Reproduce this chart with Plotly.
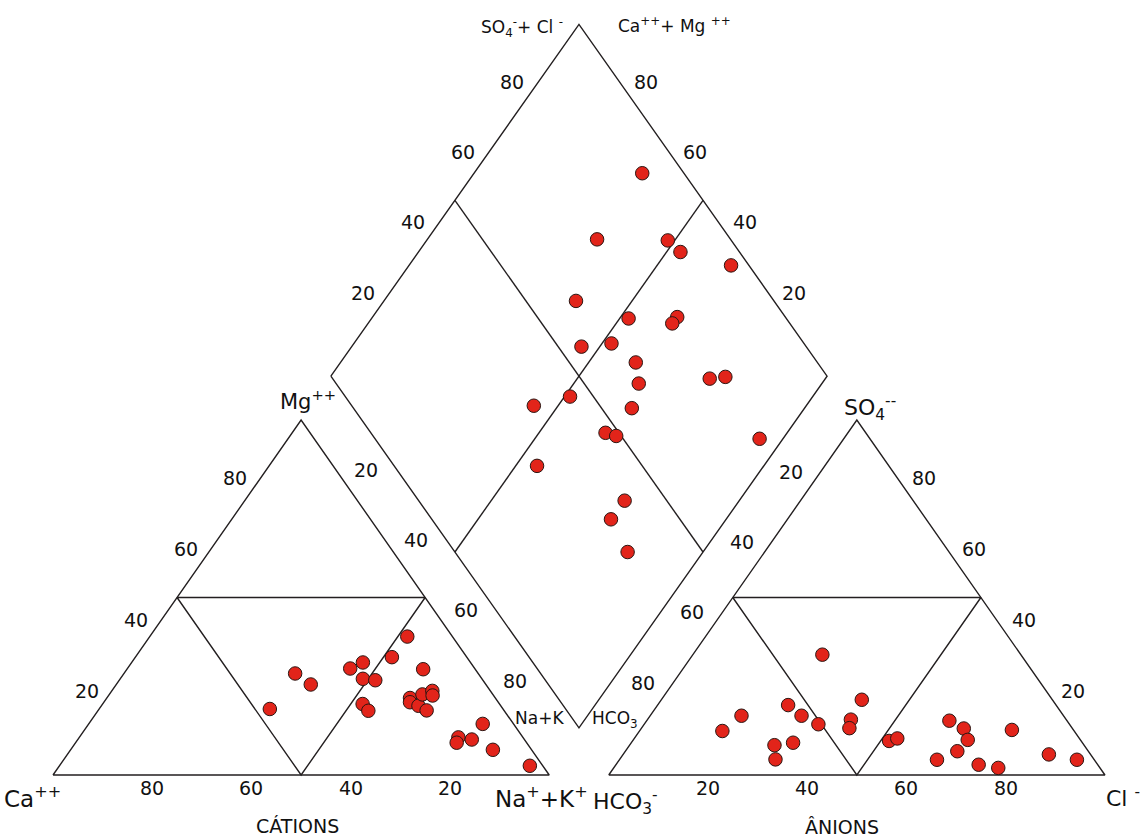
import plotly.graph_objects as go

# ---------------- data (percent of meq/L) ----------------
# cation triangle
cat_ca  = [47.0, 36.9, 35.3, 25.1, 21.7, 24.0, 21.7, 27.6, 27.4, 15.1, 9.1, 10.5, 17.2,
           17.8, 16.6, 15.6, 14.2, 11.7, 12.3, 13.0, 14.1, 10.6, 6.2, 7.8, 2.6]
cat_mg  = [18.6, 28.6, 25.5, 30.0, 31.7, 27.1, 26.7, 20.0, 18.1, 33.2, 39.0, 29.8, 21.7,
           20.5, 19.5, 18.2, 22.7, 23.7, 22.4, 10.6, 9.1, 10.0, 14.4, 7.1, 2.6]
cat_nak = [34.4, 34.5, 39.2, 44.9, 46.6, 48.9, 51.6, 52.4, 54.5, 51.7, 51.9, 59.7, 61.1,
           61.7, 63.9, 66.2, 63.1, 64.6, 65.3, 76.4, 76.8, 79.4, 79.4, 85.1, 94.8]

# anion triangle
an_hco3 = [40.0, 38.4, 54.0, 64.9, 52.8, 50.6, 43.4, 44.9, 70.9, 62.4, 58.3, 64.2,
           38.7, 36.7, 23.7, 21.9, 22.7, 26.4, 31.7, 24.0, 20.5, 12.4, 8.4, 3.5]
an_so4  = [33.9, 21.2, 19.7, 16.7, 16.7, 14.3, 15.6, 13.2, 12.4, 8.4, 9.1, 4.4,
           9.6, 10.3, 15.3, 13.1, 9.9, 6.7, 4.3, 2.9, 2.0, 12.7, 5.8, 4.3]
an_cl   = [26.1, 40.4, 26.3, 18.4, 30.5, 35.1, 41.0, 41.9, 16.7, 29.2, 32.6, 31.4,
           51.7, 53.0, 61.0, 65.0, 67.4, 66.9, 64.0, 73.1, 77.5, 74.9, 85.8, 92.2]

# diamond (Na+K %, SO4+Cl %)
dia_nak   = [33.9, 34.2, 48.6, 52.8, 64.9, 38.7, 51.8, 61.4, 61.3, 46.3, 51.9, 59.5, 76.7,
             79.6, 63.1, 45.1, 51.1, 65.2, 63.4, 66.0, 95.3, 54.3, 76.9, 76.8, 84.8]
dia_so4cl = [91.6, 73.1, 87.2, 88.1, 96.4, 60.1, 68.2, 78.2, 76.3, 54.7, 61.2, 63.4, 76.0,
             79.4, 61.0, 36.7, 45.3, 56.1, 47.3, 49.0, 77.5, 28.8, 41.5, 36.1, 34.8]

tick_vals = [20, 40, 60, 80]
tick_text = ["20", "40", "60", "80"]

# ---------------- geometry ----------------
H = 0.866          # triangle height per percent
GAP = 12.0         # gap between triangles
X_AN = 100 + GAP   # origin of anion triangle
DB_Y = 11.5        # diamond bottom height
DH = 0.858         # diamond height per percent
DX = (100 + GAP) / 2 + 50  # diamond bottom x


def cat_xy(ca, mg, nak):
    return nak + mg / 2.0, mg * H


def an_xy(hco3, so4, cl):
    return X_AN + cl + so4 / 2.0, so4 * H


def dia_xy(nak, so4cl):
    u, v = nak / 100.0, so4cl / 100.0
    lx, ly = DX - 50, DB_Y + 100 * DH
    return lx + 50 * u + 50 * v, ly - 100 * DH * u + 100 * DH * v


LINE = "#231f20"
FILL = "#e2241a"
EDGE = "#2a1612"

fig = go.Figure()

# frame lines
segs = []
segs.append([cat_xy(100, 0, 0), cat_xy(0, 0, 100), cat_xy(0, 100, 0), cat_xy(100, 0, 0)])
segs.append([cat_xy(50, 50, 0), cat_xy(0, 50, 50), cat_xy(50, 0, 50), cat_xy(50, 50, 0)])
segs.append([an_xy(100, 0, 0), an_xy(0, 0, 100), an_xy(0, 100, 0), an_xy(100, 0, 0)])
segs.append([an_xy(50, 50, 0), an_xy(0, 50, 50), an_xy(50, 0, 50), an_xy(50, 50, 0)])
segs.append([dia_xy(0, 0), dia_xy(100, 0), dia_xy(100, 100), dia_xy(0, 100), dia_xy(0, 0)])
segs.append([dia_xy(50, 0), dia_xy(50, 100)])
segs.append([dia_xy(0, 50), dia_xy(100, 50)])

lx, ly = [], []
for s in segs:
    for p in s:
        lx.append(p[0]); ly.append(p[1])
    lx.append(None); ly.append(None)
fig.add_trace(go.Scatter(x=lx, y=ly, mode="lines", line=dict(color=LINE, width=1.4),
                         hoverinfo="skip"))

marker = dict(size=13.5, color=FILL, line=dict(color=EDGE, width=1))
cx, cy = zip(*[cat_xy(a, b, c) for a, b, c in zip(cat_ca, cat_mg, cat_nak)])
ax, ay = zip(*[an_xy(a, b, c) for a, b, c in zip(an_hco3, an_so4, an_cl)])
dx, dy = zip(*[dia_xy(a, b) for a, b in zip(dia_nak, dia_so4cl)])
fig.add_trace(go.Scatter(x=cx, y=cy, mode="markers", marker=marker))
fig.add_trace(go.Scatter(x=ax, y=ay, mode="markers", marker=marker))
fig.add_trace(go.Scatter(x=dx, y=dy, mode="markers", marker=marker))

FONT = "DejaVu Sans"
anns = []


def ann(p, text, size, xs=0, ys=0, xa="center", ya="middle"):
    anns.append(dict(x=p[0], y=p[1], xref="x", yref="y", text=text, showarrow=False,
                     font=dict(family=FONT, size=size, color="#111111"),
                     xshift=xs, yshift=ys, xanchor=xa, yanchor=ya))


TS = 19
for v, t in zip(tick_vals, tick_text):
    ann(cat_xy(v, 0, 100 - v), t, TS, 0, -13)        # Ca (bottom)
    ann(cat_xy(100 - v, v, 0), t, TS, -16, 13)       # Mg (left side)
    ann(an_xy(100 - v, 0, v), t, TS, 0, -13)         # Cl (bottom)
    ann(an_xy(0, v, 100 - v), t, TS, 18, 13)         # SO4 (right side)
    ann(dia_xy(0, v), t, TS, -17, 13)                # SO4+Cl
    ann(dia_xy(100 - v, 100), t, TS, 17, 13)         # Ca+Mg
    ann(dia_xy(v, 0), t, TS, -14, -23)               # Na+K
    ann(dia_xy(100, 100 - v), t, TS, 14, -25)        # HCO3

# corner and axis labels
ann(cat_xy(100, 0, 0), "Ca<sup>++</sup>", 23, 10, -22, xa="right")
ann(cat_xy(0, 0, 100), "Na<sup>+</sup>+K<sup>+</sup>", 23, -8, -22)
ann(cat_xy(0, 100, 0), "Mg<sup>++</sup>", 21, 7, 20)
ann(cat_xy(50, 0, 50), "CÁTIONS", 19, -4, -51)
ann(an_xy(100, 0, 0), "HCO<sub>3</sub><sup>-</sup>", 22, -18, -27, xa="left")
ann(an_xy(0, 0, 100), "Cl <sup>-</sup>", 22, 37, -22, xa="right")
ann(an_xy(0, 100, 0), "SO<sub>4</sub><sup>--</sup>", 22, 13, 12)
ann(an_xy(50, 0, 50), "ÂNIONS", 19, -15, -52)

tv = dia_xy(0, 100)   # top vertex of the diamond
ann(tv, "SO<sub>4</sub><sup>-</sup>+ Cl <sup>-</sup>", 17, -14, -3, xa="right")
ann(tv, "Ca<sup>++</sup>+ Mg <sup>++</sup>", 17, 37, -1, xa="left")
bv = dia_xy(100, 0)   # bottom vertex of the diamond
ann(bv, "Na+K", 17, -13, 10, xa="right")
ann(bv, "HCO<sub>3</sub>", 17, 11, 8, xa="left")

fig.update_layout(
    width=1145, height=839,
    margin=dict(l=0, r=0, t=0, b=0),
    paper_bgcolor="white", plot_bgcolor="white",
    showlegend=False,
    xaxis=dict(range=[-10.681, 220.073], visible=False, fixedrange=True),
    yaxis=dict(range=[-15.61, 189.07], visible=False, fixedrange=True),
    annotations=anns,
)
fig.write_html("out.html", config={"displayModeBar": False})
